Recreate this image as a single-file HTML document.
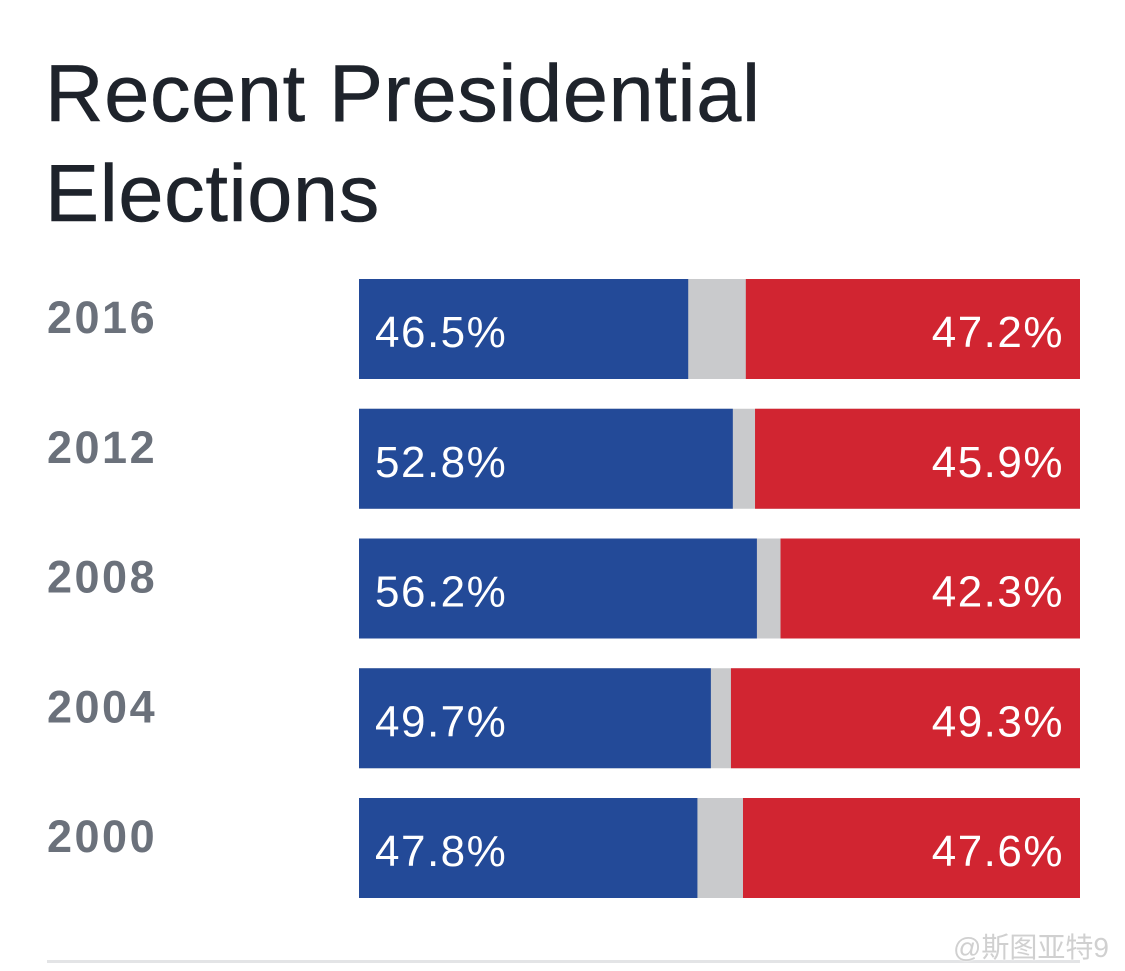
<!DOCTYPE html>
<html><head><meta charset="utf-8">
<style>
body{margin:0;width:1125px;height:971px;background:#fff;overflow:hidden;position:relative;font-family:"Liberation Sans","Noto Sans CJK SC",sans-serif;}
#title{position:absolute;left:45px;top:44px;font-size:81px;line-height:100px;color:#1e232b;margin:0;font-weight:normal;letter-spacing:0.7px;-webkit-text-stroke:0.6px #1e232b}
#rule{position:absolute;left:47px;top:960px;width:1033px;height:3px;background:#e3e4e6}
#wm{position:absolute;left:953px;top:926px;font-size:28px;color:#d0d0d0;text-shadow:0 0 2px #fff}
</style></head>
<body>
<h1 id="title">Recent Presidential<br>Elections</h1>
<svg id="chart" width="1125" height="971" style="position:absolute;left:0;top:0"></svg>
<div id="rule"></div>
<div id="wm">@斯图亚特9</div>
<script>
const years = ["2016","2012","2008","2004","2000"];
const demValues = [46.5,52.8,56.2,49.7,47.8];
const repValues = [47.2,45.9,42.3,49.3,47.6];
const svg = document.getElementById('chart');
const NS = 'http://www.w3.org/2000/svg';
const x0 = 359, x1 = 1080;
const xs = v => 7.08 * v;
const rowY = i => 279 + i * 129.75;
const barH = 100;
function mk(tag, attrs){const e=document.createElementNS(NS,tag);for(const k in attrs)e.setAttribute(k,attrs[k]);svg.appendChild(e);return e;}
years.forEach((yr,i)=>{
  const y = rowY(i);
  const lab = mk('text',{x:47,y:y+54,'font-size':45,'font-weight':'bold',fill:'#6b717b','letter-spacing':2.5,'font-family':'Liberation Sans, sans-serif'});
  lab.textContent = yr;
  
  
  const gray = mk('rect',{x:x0,y:y,width:x1-x0,height:barH,fill:'#c9cacc'});
  
  
  const d = mk('rect',{x:x0,y:y,width:xs(demValues[i]),height:barH,fill:'#234a98'});
  
  
  const rw = xs(repValues[i]);
  const r = mk('rect',{x:x1-rw,y:y,width:rw,height:barH,fill:'#d12531'});
  
  
  const dt = mk('text',{x:x0+16,y:y+68,'font-size':44,fill:'#fff','letter-spacing':1.5,'font-family':'Liberation Sans, sans-serif'});
  dt.textContent = demValues[i].toFixed(1) + '%';
  
  
  const rt = mk('text',{x:x1-16,y:y+68,'font-size':44,fill:'#fff','text-anchor':'end','letter-spacing':1.5,'font-family':'Liberation Sans, sans-serif'});
  rt.textContent = repValues[i].toFixed(1) + '%';
  
  
});
</script>
</body></html>
